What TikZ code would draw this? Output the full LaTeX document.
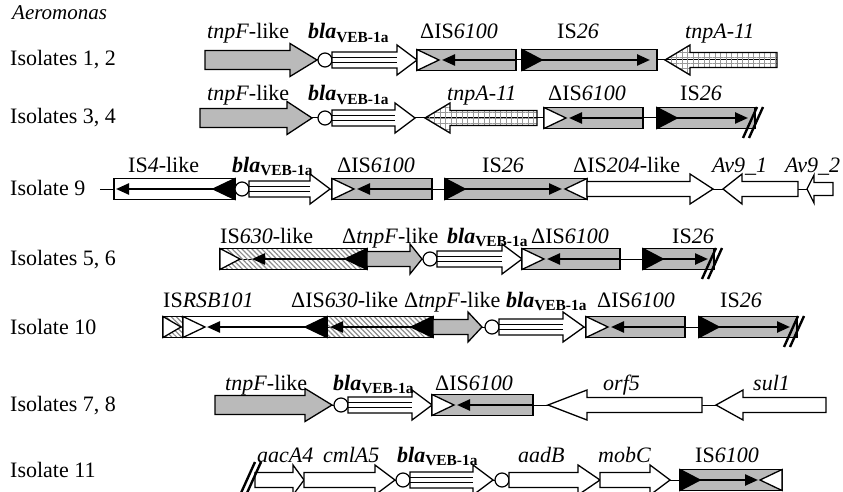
\documentclass[tikz,border=0pt]{standalone}
\usepackage{fontspec}
\setmainfont{Liberation Serif}
\usetikzlibrary{arrows.meta, patterns.meta}

\newcommand{\blalab}{\textbf{\textit{bla}}\textsubscript{\textbf{VEB-1a}}}

\begin{document}
\begin{tikzpicture}[
        x=1pt, y=-1pt,
        line join=miter,
        every node/.style={inner sep=0pt, anchor=base west, font=\fontsize{22}{26}\selectfont},
        gene/.style={draw=black, line width=1.3pt},
        isel/.style={draw=black, line width=1.3pt},
        tnp arrow/.style={line width=2.4pt, -{Triangle[length=13pt, width=11pt]}},
        backbone/.style={line width=1pt},
        cut/.style={line width=2.4pt},
        attc/.style={draw=black, fill=white, line width=1.2pt},
        grey box/.style={fill=black!27},
        checker/.style={pattern={Hatch[angle=0, distance=5.5pt, line width=0.8pt]}, pattern color=black!40},
        hatched/.style={pattern={Lines[angle=-45, distance=3.5pt, line width=1.2pt]}, pattern color=black!45},
    ]
    \def\bh{7.5}
    \def\hh{15}
    % gene arrow: style, y, tail, head base, tip
    \def\gene#1#2#3#4#5{\draw[gene,#1] (#3,#2-\bh) -- (#4,#2-\bh) -- (#4,#2-\hh) -- (#5,#2) -- (#4,#2+\hh) -- (#4,#2+\bh) -- (#3,#2+\bh) -- cycle;}
    \def\tnpf#1#2#3#4{{\def\bh{9.5}\def\hh{16.5}\gene{grey box}{#1}{#2}{#3}{#4}}}
    \def\bla#1#2#3#4{{\def\bh{8}\def\hh{15}\gene{fill=white}{#1}{#2}{#3}{#4}
        \draw[line width=1pt] (#2,#1-2.7) -- (#3,#1-2.7) (#2,#1+2.7) -- (#3,#1+2.7);}}
    % IS element parts
    \def\isbox#1#2#3#4{\draw[isel,#1] (#3,#2-10.5) rectangle (#4,#2+10.5);}
    \def\irm#1#2#3#4{\draw[isel,#1] (#3,#2-10.5) -- (#4,#2) -- (#3,#2+10.5) -- cycle;}
    \def\tnp#1#2#3{\draw[tnp arrow] (#2,#1) -- (#3,#1);}
    \def\attc#1#2{\draw[attc] (#2,#1) circle[radius=7pt];}
    \def\cut#1#2{\draw[cut] (#1-9,#2+20) -- (#1+5,#2-11) (#1-3,#2+20) -- (#1+11,#2-11);}

    \useasboundingbox (0,0) rectangle (843,492);
    \fill[white] (0,0) rectangle (843,492);
    \clip (0,0) rectangle (843,492);

    \node (genus) at (12,20) {\fontsize{21}{24}\selectfont\itshape Aeromonas};

    % Isolates 1, 2
    \node (iso1) at (10,66) {Isolates 1, 2};
    \draw[backbone] (205,60) -- (777,60);
    \tnpf{60}{205}{290}{317}
    \attc{60}{325}
    \bla{60}{332}{397}{417}
    \isbox{grey box}{60}{417}{516} \irm{fill=white}{60}{417}{439} \tnp{60}{516}{442}
    \isbox{grey box}{60}{522}{657} \irm{fill=black}{60}{522}{542} \tnp{60}{542}{650}
    \gene{checker}{60}{777}{690}{665}
    \node (a1) at (207,39) {\textit{tnpF}-like};
    \node (b1) at (308,39) {\blalab};
    \node (c1) at (420,39) {ΔIS\textit{6100}};
    \node (d1) at (557,39) {IS\textit{26}};
    \node (e1) at (685,39) {\textit{tnpA-11}};

    % Isolates 3, 4
    \node (iso3) at (10,124) {Isolates 3, 4};
    \draw[backbone] (200,118) -- (755,118);
    \tnpf{118}{200}{287}{312}
    \attc{118}{325}
    \bla{118}{332}{395}{415}
    \gene{checker}{118}{537}{450}{425}
    \isbox{grey box}{118}{544}{643} \irm{fill=white}{118}{544}{566} \tnp{118}{643}{569}
    \isbox{grey box}{118}{657}{755} \irm{fill=black}{118}{657}{677} \tnp{118}{677}{748}
    \cut{752}{118}
    \node (a2) at (207,101) {\textit{tnpF}-like};
    \node (b2) at (308,101) {\blalab};
    \node (c2) at (447,101) {\textit{tnpA-11}};
    \node (d2) at (548,101) {ΔIS\textit{6100}};
    \node (e2) at (680,101) {IS\textit{26}};

    % Isolate 9
    \node (iso9) at (10,195) {Isolate 9};
    \draw[backbone] (100,189) -- (833,189);
    \isbox{fill=white}{189}{114}{235} \irm{fill=black}{189}{235}{213} \tnp{189}{213}{116}
    \attc{189}{242}
    \bla{189}{249}{310}{330}
    \isbox{grey box}{189}{332}{432} \irm{fill=white}{189}{332}{354} \tnp{189}{432}{357}
    \isbox{grey box}{189}{445}{587} \irm{fill=black}{189}{445}{465} \tnp{189}{465}{562}
    \irm{fill=white}{189}{587}{565}
    \gene{fill=white}{189}{587}{690}{713}
    \gene{fill=white}{189}{798}{742}{723}
    {\def\bh{6.5}\def\hh{14}\gene{fill=white}{189}{833}{814}{807}}
    \node (a3) at (128,172) {IS\textit{4}-like};
    \node (b3) at (232,172) {\blalab};
    \node (c3) at (337,172) {ΔIS\textit{6100}};
    \node (d3) at (482,172) {IS\textit{26}};
    \node (e3) at (573,172) {ΔIS\textit{204}-like};
    \node (f3) at (712,172) {\textit{Av9\_1}};
    \node (g3) at (785,172) {\textit{Av9\_2}};

    % Isolates 5, 6
    \node (iso5) at (10,265) {Isolates 5, 6};
    \draw[backbone] (220,259) -- (714,259);
    \isbox{hatched}{259}{220}{367} \irm{fill=white}{259}{220}{240}
    \irm{fill=black}{259}{367}{345} \tnp{259}{345}{252}
    \gene{grey box}{259}{367}{410}{422}
    \attc{259}{430}
    \bla{259}{437}{502}{522}
    \isbox{grey box}{259}{522}{620} \irm{fill=white}{259}{522}{544} \tnp{259}{620}{547}
    \isbox{grey box}{259}{643}{714} \irm{fill=black}{259}{643}{663} \tnp{259}{663}{708}
    \cut{711}{259}
    \node (a4) at (220,243) {IS\textit{630}-like};
    \node (b4) at (342,243) {Δ\textit{tnpF}-like};
    \node (c4) at (447,243) {\blalab};
    \node (d4) at (531,243) {ΔIS\textit{6100}};
    \node (e4) at (672,243) {IS\textit{26}};

    % Isolate 10
    \node (iso10) at (10,334) {Isolate 10};
    \draw[backbone] (163,327) -- (797,327);
    \isbox{hatched}{327}{163}{183} \irm{fill=white}{327}{163}{181}
    \isbox{fill=white}{327}{183}{327} \irm{fill=white}{327}{183}{205}
    \irm{fill=black}{327}{327}{305} \tnp{327}{305}{207}
    \isbox{hatched}{327}{327}{433} \irm{fill=black}{327}{433}{411} \tnp{327}{411}{330}
    \gene{grey box}{327}{433}{468}{482}
    \attc{327}{492}
    \bla{327}{499}{563}{584}
    \isbox{grey box}{327}{586}{685} \irm{fill=white}{327}{586}{608} \tnp{327}{685}{611}
    \isbox{grey box}{327}{699}{797} \irm{fill=black}{327}{699}{719} \tnp{327}{719}{790}
    \cut{793}{327}
    \node (a5) at (163,307) {IS\textit{RSB101}};
    \node (b5) at (291,307) {ΔIS\textit{630}-like};
    \node (c5) at (404,307) {Δ\textit{tnpF}-like};
    \node (d5) at (506,307) {\blalab};
    \node (e5) at (597,307) {ΔIS\textit{6100}};
    \node (f5) at (720,307) {IS\textit{26}};

    % Isolates 7, 8
    \node (iso7) at (10,411) {Isolates 7, 8};
    \draw[backbone] (215,405) -- (826,405);
    \tnpf{405}{215}{305}{332}
    \attc{405}{341}
    \bla{405}{348}{412}{432}
    \isbox{grey box}{405}{432}{533} \irm{fill=white}{405}{432}{454} \tnp{405}{533}{457}
    \gene{fill=white}{405}{702}{587}{548}
    \gene{fill=white}{405}{826}{743}{716}
    \node (a6) at (225,390) {\textit{tnpF}-like};
    \node (b6) at (333,390) {\blalab};
    \node (c6) at (435,390) {ΔIS\textit{6100}};
    \node (d6) at (603,390) {\textit{orf5}};
    \node (e6) at (753,390) {\textit{sul1}};

    % Isolate 11
    \node (iso11) at (10,477) {Isolate 11};
    \draw[backbone] (255,480) -- (782,480);
    \gene{fill=white}{480}{255}{293}{304}
    \gene{fill=white}{480}{304}{375}{395}
    \attc{480}{403}
    \bla{480}{410}{473}{493}
    \attc{480}{502}
    \gene{fill=white}{480}{509}{578}{600}
    \gene{fill=white}{480}{600}{650}{670}
    \isbox{grey box}{480}{680}{782} \irm{fill=black}{480}{680}{700} \tnp{480}{700}{758}
    \irm{fill=white}{480}{782}{760}
    \cut{250}{473}
    \node (a7) at (257,462) {\textit{aacA4}};
    \node (b7) at (323,462) {\textit{cmlA5}};
    \node (c7) at (397,462) {\blalab};
    \node (d7) at (518,462) {\textit{aadB}};
    \node (e7) at (598,462) {\textit{mobC}};
    \node (f7) at (695,462) {IS\textit{6100}};
\end{tikzpicture}
\end{document}
